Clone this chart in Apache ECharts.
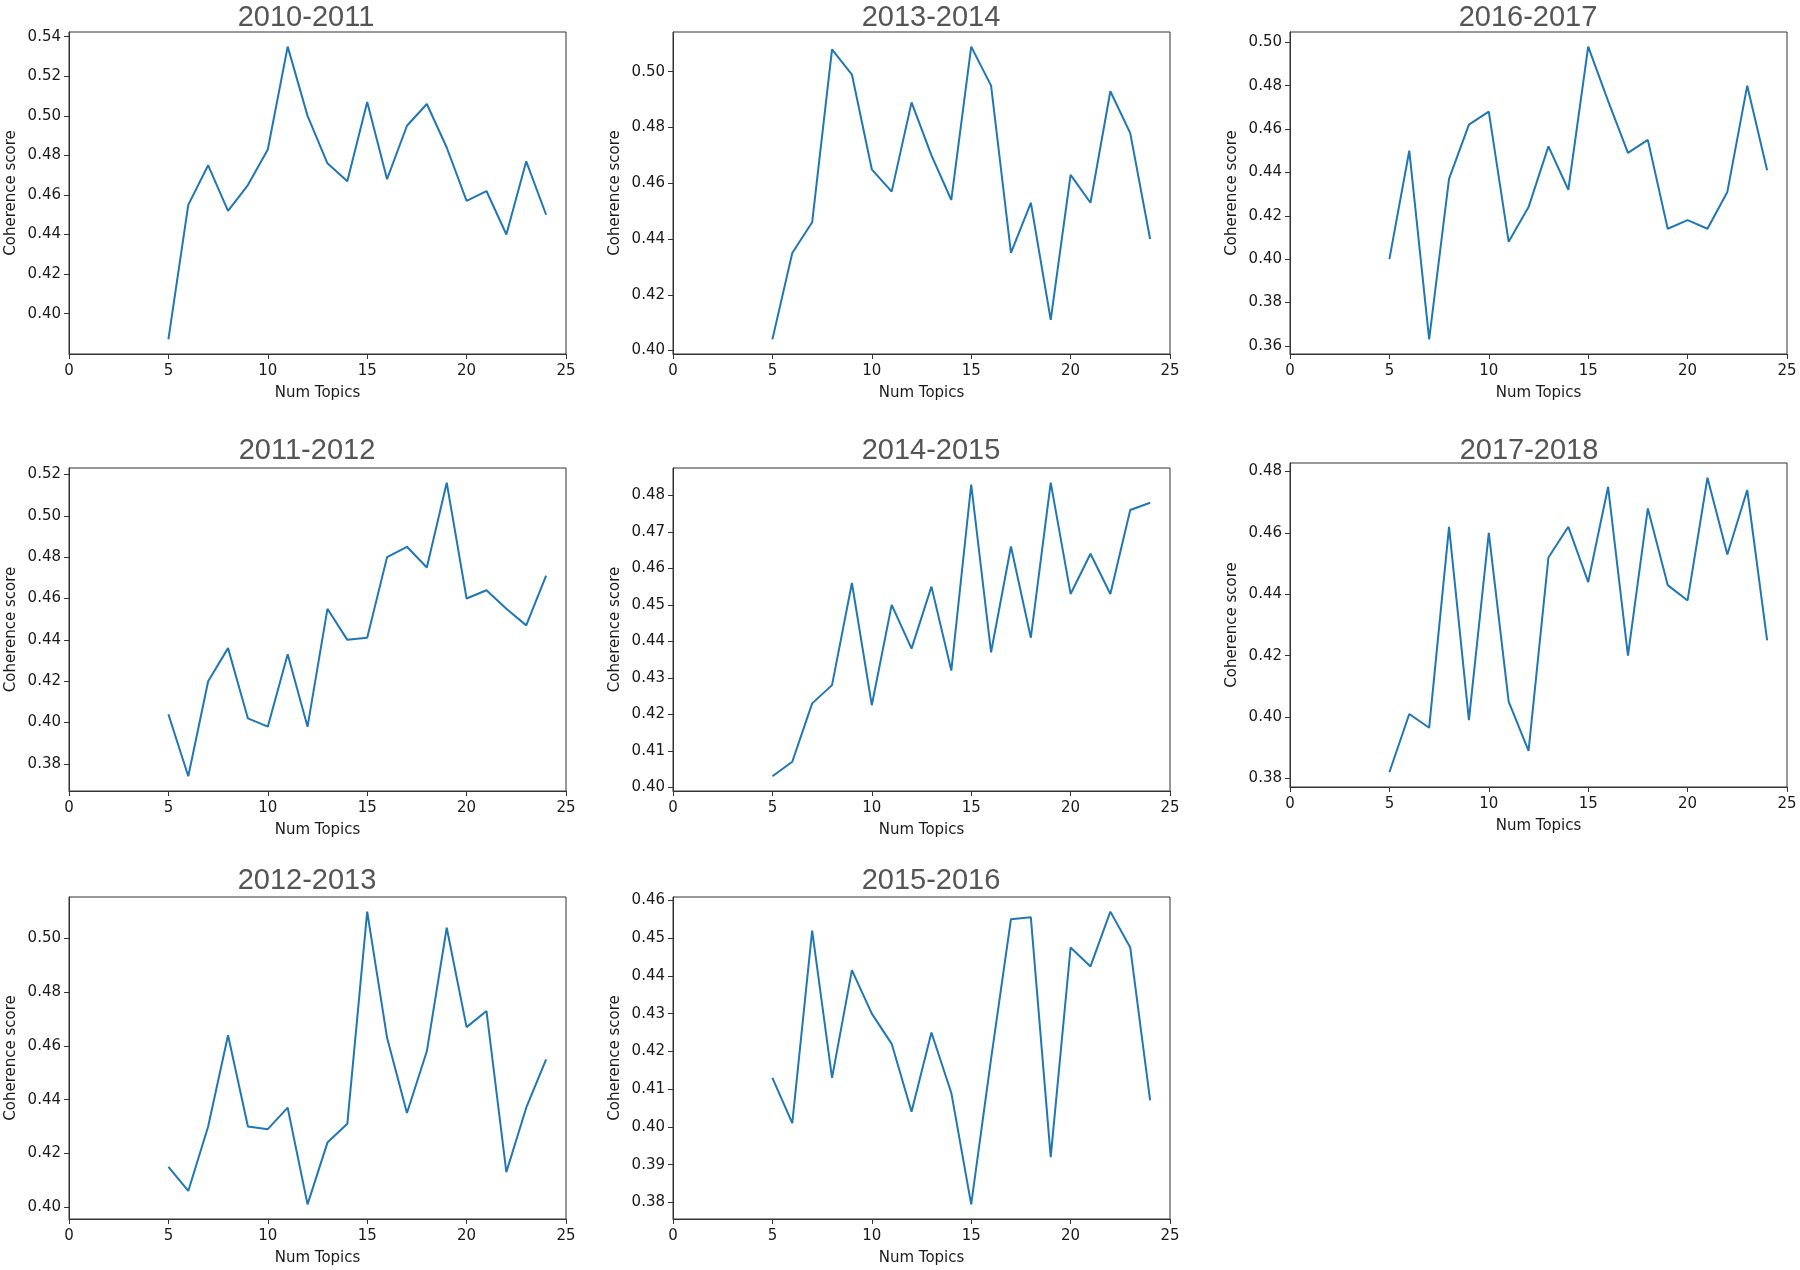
<!DOCTYPE html>
<html>
<head>
<meta charset="utf-8">
<script src="https://cdn.jsdelivr.net/npm/echarts@6/dist/echarts.min.js"></script>
<style>
html,body{margin:0;padding:0;background:#fff;}
#chart{width:1800px;height:1270px;}
</style>
</head>
<body>
<div id="chart"></div>
<script>
// ---- data ----
const numTopics = [5,6,7,8,9,10,11,12,13,14,15,16,17,18,19,20,21,22,23,24];
const xTicks = [0,5,10,15,20,25];

const periods = ['2010-2011','2013-2014','2016-2017','2011-2012','2014-2015','2017-2018','2012-2013','2015-2016'];

const coh2010_2011 = [0.387,0.455,0.475,0.452,0.465,0.483,0.535,0.500,0.476,0.467,0.507,0.468,0.495,0.506,0.484,0.457,0.462,0.440,0.477,0.450];
const coh2013_2014 = [0.404,0.435,0.446,0.508,0.499,0.465,0.457,0.489,0.470,0.454,0.509,0.495,0.435,0.453,0.411,0.463,0.453,0.493,0.478,0.440];
const coh2016_2017 = [0.400,0.450,0.363,0.437,0.462,0.468,0.408,0.424,0.452,0.432,0.498,0.473,0.449,0.455,0.414,0.418,0.414,0.431,0.480,0.441];
const coh2011_2012 = [0.404,0.374,0.420,0.436,0.402,0.398,0.433,0.398,0.455,0.440,0.441,0.480,0.485,0.475,0.516,0.460,0.464,0.455,0.447,0.471];
const coh2014_2015 = [0.403,0.407,0.423,0.428,0.456,0.4225,0.450,0.438,0.455,0.432,0.483,0.437,0.466,0.441,0.4835,0.453,0.464,0.453,0.476,0.478];
const coh2017_2018 = [0.382,0.401,0.3965,0.462,0.399,0.460,0.405,0.389,0.452,0.462,0.444,0.475,0.420,0.468,0.443,0.438,0.478,0.453,0.474,0.425];
const coh2012_2013 = [0.415,0.406,0.430,0.464,0.430,0.429,0.437,0.401,0.424,0.431,0.510,0.463,0.435,0.458,0.504,0.467,0.473,0.413,0.437,0.455];
const coh2015_2016 = [0.413,0.401,0.452,0.413,0.4415,0.430,0.422,0.404,0.425,0.409,0.3795,0.418,0.455,0.4555,0.392,0.4475,0.4425,0.457,0.4475,0.407];

const yTicks2010_2011 = [0.40,0.42,0.44,0.46,0.48,0.50,0.52,0.54];
const yTicks2013_2014 = [0.40,0.42,0.44,0.46,0.48,0.50];
const yTicks2016_2017 = [0.36,0.38,0.40,0.42,0.44,0.46,0.48,0.50];
const yTicks2011_2012 = [0.38,0.40,0.42,0.44,0.46,0.48,0.50,0.52];
const yTicks2014_2015 = [0.40,0.41,0.42,0.43,0.44,0.45,0.46,0.47,0.48];
const yTicks2017_2018 = [0.38,0.40,0.42,0.44,0.46,0.48];
const yTicks2012_2013 = [0.40,0.42,0.44,0.46,0.48,0.50];
const yTicks2015_2016 = [0.38,0.39,0.40,0.41,0.42,0.43,0.44,0.45,0.46];

const seriesValues = [coh2010_2011,coh2013_2014,coh2016_2017,coh2011_2012,coh2014_2015,coh2017_2018,coh2012_2013,coh2015_2016];
const yTickLists = [yTicks2010_2011,yTicks2013_2014,yTicks2016_2017,yTicks2011_2012,yTicks2014_2015,yTicks2017_2018,yTicks2012_2013,yTicks2015_2016];

// ---- layout (pixels) ----
const gridBoxes = [
  {left:69,  top:32,  width:497, height:322, titleX:306,  titleY:18},
  {left:673, top:32,  width:497, height:322, titleX:931,  titleY:18},
  {left:1290,top:32,  width:497, height:322, titleX:1528, titleY:18},
  {left:69,  top:468, width:497, height:323, titleX:307,  titleY:451},
  {left:673, top:468, width:497, height:323, titleX:931,  titleY:451},
  {left:1290,top:463, width:497, height:324, titleX:1529, titleY:451},
  {left:69,  top:897, width:497, height:322, titleX:307,  titleY:881},
  {left:673, top:897, width:497, height:322, titleX:931,  titleY:881}
];

const axisColor = '#333';
const labelFont = {fontFamily:'DejaVu Sans', fontSize:15, color:'#1a1a1a'};

const grids = [], xAxes = [], yAxes = [], series = [], graphics = [];
gridBoxes.forEach((b, i) => {
  const vals = seriesValues[i];
  const mn = Math.min(...vals), mx = Math.max(...vals);
  const pad = (mx - mn) * 0.05;
  grids.push({left:b.left, top:b.top, width:b.width, height:b.height,
    show:true, borderColor:axisColor, borderWidth:1, backgroundColor:'transparent'});
  xAxes.push({
    type:'value', gridIndex:i, min:0, max:25, interval:5,
    name:'Num Topics', nameLocation:'middle', nameGap:32,
    nameTextStyle:labelFont,
    axisLine:{show:true, onZero:false, lineStyle:{color:axisColor, width:1}},
    axisTick:{show:true, length:5, lineStyle:{color:axisColor}},
    axisLabel:{...labelFont, margin:10, showMinLabel:true, showMaxLabel:true},
    splitLine:{show:false}
  });
  yAxes.push({
    type:'value', gridIndex:i, min:mn - pad, max:mx + pad, scale:true,
    name:'Coherence score', nameLocation:'middle', nameGap:50,
    nameTextStyle:labelFont,
    axisLine:{show:true, onZero:false, lineStyle:{color:axisColor, width:1}},
    axisTick:{show:true, length:5, lineStyle:{color:axisColor}, customValues:yTickLists[i]},
    axisLabel:{...labelFont, margin:8, customValues:yTickLists[i],
      formatter: v => Number(v).toFixed(2)},
    splitLine:{show:false}
  });
  series.push({
    type:'line', xAxisIndex:i, yAxisIndex:i, name:periods[i],
    data:numTopics.map((n, k) => [n, vals[k]]),
    showSymbol:false, symbol:'none', smooth:false,
    lineStyle:{color:'#1f77b4', width:2},
    animation:false
  });
  graphics.push({
    type:'text', x:b.titleX, y:b.titleY,
    style:{text:periods[i], fill:'#555', font:'29px "Liberation Sans", Arial, sans-serif',
      textAlign:'center', textVerticalAlign:'middle'}
  });
});

const chart = echarts.init(document.getElementById('chart'), null, {renderer:'canvas'});
chart.setOption({
  backgroundColor:'#fff',
  animation:false,
  grid:grids, xAxis:xAxes, yAxis:yAxes, series:series,
  graphic:graphics
});
</script>
</body>
</html>
